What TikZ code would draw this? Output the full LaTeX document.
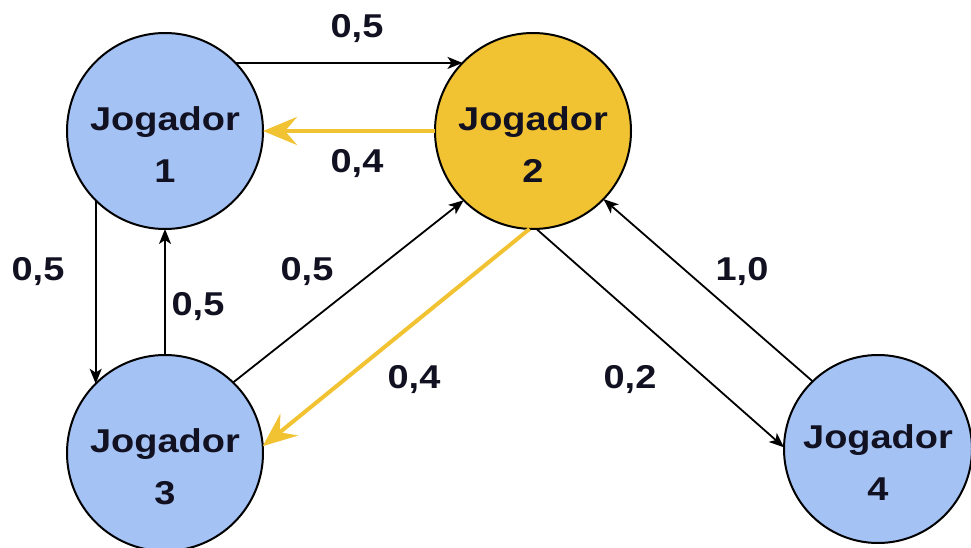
\documentclass[tikz,border=0pt]{standalone}
\usepackage{fontspec}
\setmainfont{Liberation Sans}[FakeStretch=1.15]
\usetikzlibrary{arrows.meta}
\definecolor{nodeblue}{HTML}{A4C2F4}
\definecolor{nodegold}{HTML}{F1C232}
\definecolor{inkdark}{HTML}{111122}
\begin{document}
\begin{tikzpicture}[x=1pt,y=1pt,
  player/.style={circle, draw=black, line width=2pt, minimum size=196pt, inner sep=0pt, outer sep=0pt},
  ptext/.style={font=\bfseries\fontsize{33}{52}\selectfont, text=inkdark, align=center, yshift=-14pt},
  lbl/.style={font=\bfseries\fontsize{33}{40}\selectfont, text=inkdark, anchor=base},
  blk/.style={draw=black, line width=1.8pt, -{Stealth[length=15pt,width=12pt,inset=4pt]}},
  goldarrow/.style={draw=nodegold, line width=4pt, -{Stealth[length=34pt,width=28pt,inset=12pt]}}]
\useasboundingbox (0,0) rectangle (971,547);
\fill[white] (0,0) rectangle (971,547);
% players
\node[player, fill=nodeblue] (J1) at (165,416) {};
\node[player, fill=nodegold] (J2) at (533,416) {};
\node[player, fill=nodeblue] (J3) at (165,94) {};
\node[player, fill=nodeblue, minimum size=188pt] (J4) at (878,98) {};
\node[ptext] (J1t) at (J1.center) {Jogador\\1};
\node[ptext] (J2t) at (J2.center) {Jogador\\2};
\node[ptext] (J3t) at (J3.center) {Jogador\\3};
\node[ptext] (J4t) at (J4.center) {Jogador\\4};
% connectors
\draw[blk] (J1.44) -- (J2.136);
\draw[goldarrow] (J2.west) -- (J1.east);
\draw[blk] (J1.225) -- (J3.135);
\draw[blk] (J3.north) -- (J1.south);
\draw[blk] (J3.46) -- (J2.225);
\draw[goldarrow] (J2.268) -- (J3.4);
\draw[blk] (J2.272) -- (J4.179);
\draw[blk] (J4.134) -- (J2.316);
% labels
\node[lbl] (l12) at (357,509) {0,5};
\node[lbl] (l21) at (357,374) {0,4};
\node[lbl] (l13) at (38,267) {0,5};
\node[lbl] (l31) at (198,232) {0,5};
\node[lbl] (l32) at (307,267) {0,5};
\node[lbl] (l42) at (742,267) {1,0};
\node[lbl] (l23) at (414,159) {0,4};
\node[lbl] (l24) at (630,159) {0,2};
\end{tikzpicture}
\end{document}
